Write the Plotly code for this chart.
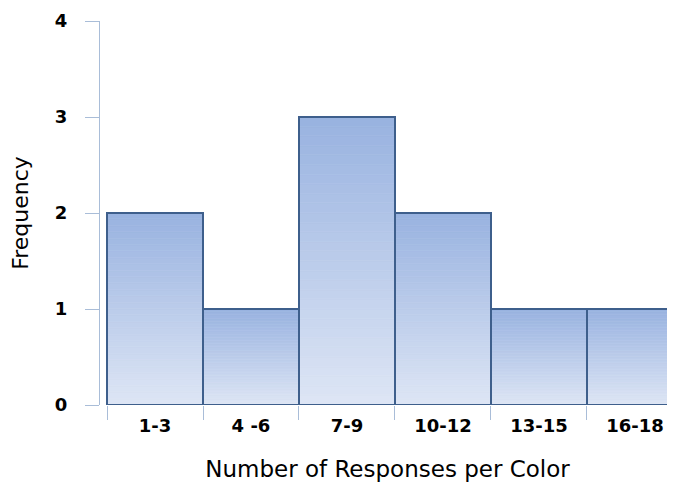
import plotly.graph_objects as go

categories = ["1-3", "4 -6", "7-9", "10-12", "13-15", "16-18"]
frequency = [2, 1, 3, 2, 1, 1]
y_ticks = [0, 1, 2, 3, 4]

top_rgb = (152, 178, 224)
bottom_rgb = (222, 230, 245)
N = 30

fig = go.Figure()
for i in range(N):
    t = (i + 0.5) / N
    c = tuple(round(bottom_rgb[k] + (top_rgb[k] - bottom_rgb[k]) * t) for k in range(3))
    fig.add_trace(go.Bar(
        x=categories,
        y=[v / N for v in frequency],
        base=[v * i / N for v in frequency],
        marker=dict(color="rgb(%d,%d,%d)" % c, line=dict(width=0.6, color="rgb(%d,%d,%d)" % c)),
        showlegend=False, hoverinfo="skip",
    ))
fig.add_trace(go.Bar(
    x=categories, y=frequency,
    marker=dict(color="rgba(0,0,0,0)", line=dict(width=2, color="#3e5f8c")),
    showlegend=False,
))

fig.update_layout(
    width=667, height=475,
    margin=dict(l=92, r=0, t=13, b=78),
    paper_bgcolor="white", plot_bgcolor="white",
    barmode="overlay", bargap=0,
    font=dict(family="DejaVu Sans", color="black"),
    xaxis=dict(
        type="category", range=[-0.573, 5.417], automargin=False,
        tickson="boundaries", ticks="outside", ticklen=14, tickwidth=1, tickcolor="#a9bdd8",
        showline=False, showgrid=False, zeroline=False,
        tickfont=dict(size=18, family="DejaVu Sans", weight="bold"),
        ticklabelstandoff=8,
        title=dict(text="Number of Responses per Color", font=dict(size=23, family="DejaVu Sans"), standoff=25),
    ),
    yaxis=dict(
        range=[0, 4], tickvals=y_ticks, automargin=False,
        ticks="outside", ticklen=14, tickwidth=1, tickcolor="#a9bdd8",
        showline=True, linecolor="#a9bdd8", linewidth=1,
        showgrid=False, zeroline=False,
        tickfont=dict(size=18, family="DejaVu Sans", weight="bold"),
        ticklabelstandoff=14,
        title=dict(text="Frequency", font=dict(size=22, family="DejaVu Sans"), standoff=22),
    ),
)
fig.write_html("out.html")
